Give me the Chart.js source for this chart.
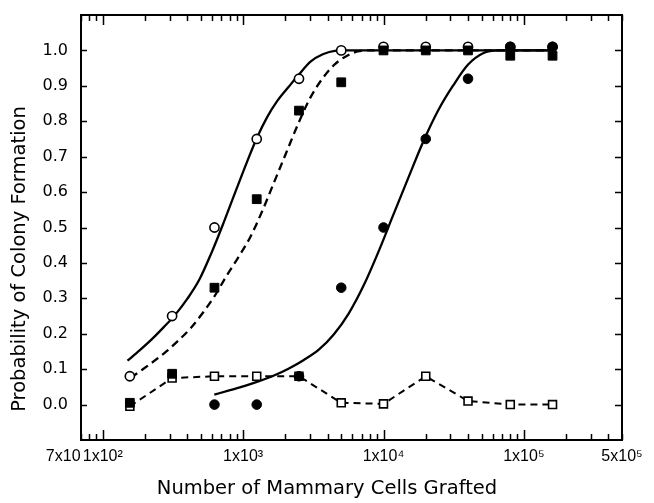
<!DOCTYPE html>
<html>
<head>
<meta charset="utf-8">
<script src="https://cdn.jsdelivr.net/npm/chart.js@4.4.1/dist/chart.umd.min.js"></script>
<style>
html,body{margin:0;padding:0;background:#fff;}
#wrap{width:654px;height:503px;}
</style>
</head>
<body>
<div id="wrap"><canvas id="c" width="654" height="503"></canvas></div>
<script>
// ---- data ----
const cellsGrafted   = [156, 312, 625, 1250, 2500, 5000, 10000, 20000, 40000, 80000, 160000];
const openCircles    = [0.08, 0.25, 0.50, 0.75, 0.92, 1.00, 1.01, 1.01, 1.01, 1.01, 1.01];
const filledSquares  = [0.005, 0.087, 0.33, 0.58, 0.83, 0.91, 1.00, 1.00, 1.00, 0.985, 0.985];
const filledCircles  = [null, null, 0.00, 0.00, 0.08, 0.33, 0.50, 0.75, 0.92, 1.01, 1.01];
const openSquares    = [-0.005, 0.075, 0.08, 0.08, 0.08, 0.005, 0.002, 0.08, 0.01, 0.00, 0.00];

// fitted curves
const curveOpenX   = [150, 183, 223, 271, 329, 401, 488, 593, 722, 878, 1068, 1257, 1480, 1742, 2120, 2496, 3036, 3694, 4494, 5465, 10000, 20000, 40000, 80000, 160000];
const curveOpenY   = [0.124, 0.153, 0.184, 0.218, 0.254, 0.299, 0.353, 0.427, 0.511, 0.599, 0.686, 0.754, 0.811, 0.856, 0.898, 0.932, 0.969, 0.989, 0.999, 1.0, 1.0, 1.0, 1.0, 1.0, 1.0];
const curveSquareX = [158, 192, 234, 284, 346, 421, 512, 623, 758, 922, 1121, 1364, 1659, 2018, 2455, 2987, 3634, 4421, 5378, 6540, 7958, 10000, 20000, 40000, 80000, 160000];
const curveSquareY = [0.076, 0.099, 0.124, 0.150, 0.181, 0.215, 0.257, 0.305, 0.362, 0.415, 0.472, 0.545, 0.627, 0.709, 0.791, 0.864, 0.918, 0.958, 0.983, 0.997, 1.0, 1.0, 1.0, 1.0, 1.0, 1.0];
const curveFilledX = [623, 796, 1016, 1299, 1659, 2120, 2707, 3459, 4421, 5647, 7215, 9216, 11776, 15044, 19218, 24548, 31364, 40062, 51196, 65405, 100000, 160000];
const curveFilledY = [0.028, 0.040, 0.052, 0.066, 0.082, 0.102, 0.126, 0.155, 0.198, 0.257, 0.336, 0.432, 0.537, 0.641, 0.743, 0.831, 0.901, 0.960, 0.992, 1.0, 1.0, 1.0];

// axes
const xLabelValues = [70, 100, 1000, 10000, 100000, 500000];
const xTickLabels  = ['7x10        ', '1x10²', '1x10³', '1x10⁴', '1x10⁵', '5x10⁵'];
const yTickValues  = [0, 0.1, 0.2, 0.3, 0.4, 0.5, 0.6, 0.7, 0.8, 0.9, 1.0];
const yTickLabels  = ['0.0', '0.1', '0.2', '0.3', '0.4', '0.5', '0.6', '0.7', '0.8', '0.9', '1.0'];
const xTitle = 'Number of Mammary Cells Grafted';
const yTitle = 'Probability of Colony Formation';

const pts = (xs, ys) => xs.map((x, i) => ({x: x, y: ys[i]})).filter(p => p.y !== null);

// tick-mark positions (every 1..9 multiple of each decade inside the axis)
const xTickMarks = [];
for (let d = 10; d <= 100000; d *= 10) {
  for (let m = 1; m <= 9; m++) {
    const v = m * d;
    if (v >= 70 && v <= 500000) xTickMarks.push(v);
  }
}

const frameTicks = {
  id: 'frameTicks',
  afterDraw(chart) {
    const {ctx, chartArea: a, scales} = chart;
    const x = scales.x, y = scales.y;
    ctx.save();
    ctx.strokeStyle = '#000';
    ctx.lineWidth = 1.5;
    ctx.beginPath();
    for (const v of xTickMarks) {
      const px = Math.round(x.getPixelForValue(v)) + 0.5;
      const major = Math.abs(Math.log10(v) - Math.round(Math.log10(v))) < 1e-9;
      const len = major ? 10 : 6;
      ctx.moveTo(px, a.bottom); ctx.lineTo(px, a.bottom - len);
      ctx.moveTo(px, a.top); ctx.lineTo(px, a.top + len);
    }
    for (const v of yTickValues) {
      const py = Math.round(y.getPixelForValue(v)) + 0.5;
      ctx.moveTo(a.left, py); ctx.lineTo(a.left + 6, py);
      ctx.moveTo(a.right, py); ctx.lineTo(a.right - 7, py);
    }
    ctx.stroke();
    ctx.lineWidth = 2;
    ctx.strokeRect(a.left, a.top, a.right - a.left, a.bottom - a.top);
    ctx.restore();
  }
};

Chart.defaults.font.family = "'DejaVu Sans', sans-serif";
Chart.defaults.color = '#000';

const curveStyle = { showLine: true, pointRadius: 0, borderColor: '#000', borderWidth: 2.3,
                     cubicInterpolationMode: 'monotone', yAxisID: 'y' };

new Chart(document.getElementById('c'), {
  type: 'line',
  data: {
    datasets: [
      { label: 'filled squares', data: pts(cellsGrafted, filledSquares), showLine: false,
        pointStyle: 'rect', pointRadius: 6.2, backgroundColor: '#000', borderColor: '#000', borderWidth: 1, yAxisID: 'y' },
      { label: 'filled circles', data: pts(cellsGrafted, filledCircles), showLine: false,
        pointStyle: 'circle', pointRadius: 4.8, backgroundColor: '#000', borderColor: '#000', borderWidth: 1, yAxisID: 'y' },
      { label: 'open circles', data: pts(cellsGrafted, openCircles), showLine: false,
        pointStyle: 'circle', pointRadius: 4.6, backgroundColor: '#fff', borderColor: '#000', borderWidth: 1.6, yAxisID: 'y' },
      { label: 'open squares', data: pts(cellsGrafted, openSquares), showLine: true,
        borderDash: [7, 5], borderWidth: 2, borderColor: '#000', tension: 0,
        pointStyle: 'rect', pointRadius: 5.6, pointBackgroundColor: '#fff', pointBorderColor: '#000', pointBorderWidth: 1.6, yAxisID: 'y' },
      Object.assign({ label: 'curve open', data: pts(curveOpenX, curveOpenY) }, curveStyle),
      Object.assign({ label: 'curve squares', data: pts(curveSquareX, curveSquareY), borderDash: [8, 5] }, curveStyle),
      Object.assign({ label: 'curve filled', data: pts(curveFilledX, curveFilledY) }, curveStyle)
    ]
  },
  options: {
    responsive: false,
    animation: false,
    devicePixelRatio: 1,
    layout: { padding: { top: 15, left: 0, right: 0, bottom: 0 } },
    plugins: {
      legend: { display: false },
      tooltip: { enabled: false },
      title: { display: true, text: yTitle, position: 'left', color: '#000',
               font: { size: 19.5, weight: 'normal' }, padding: { top: 8, bottom: 0 } },
      subtitle: { display: true, text: xTitle, position: 'bottom', color: '#000',
               font: { size: 19.5, weight: 'normal' }, padding: { top: 0, bottom: 2 } }
    },
    scales: {
      x: {
        type: 'logarithmic', position: 'bottom', min: 70, max: 500000,
        afterBuildTicks: s => { s.ticks = xLabelValues.map(v => ({ value: v })); },
        afterFit: s => { s.height = 37.6; s.paddingLeft = 0; s.paddingRight = 0; },
        grid: { display: false, drawTicks: false }, border: { display: false },
        ticks: { autoSkip: false, maxRotation: 0, minRotation: 0, padding: 7,
                 font: { size: 16, family: "'Liberation Sans', sans-serif" }, color: '#000',
                 callback: (v, i) => xTickLabels[i] }
      },
      y: {
        type: 'linear', position: 'left', min: -0.1, max: 1.1,
        afterBuildTicks: s => { s.ticks = yTickValues.map(v => ({ value: v })); },
        afterFit: s => { s.width = 49.6; s.paddingTop = 0; s.paddingBottom = 0; },
        grid: { display: false, drawTicks: false }, border: { display: false },
        ticks: { padding: 13, font: { size: 16 }, color: '#000', callback: (v, i) => yTickLabels[i] }
      },
      y2: {
        type: 'linear', position: 'right', display: true,
        afterFit: s => { s.width = 32; s.paddingTop = 0; s.paddingBottom = 0; },
        grid: { display: false, drawTicks: false }, border: { display: false },
        ticks: { display: false }
      }
    }
  },
  plugins: [frameTicks]
});
</script>
</body>
</html>
